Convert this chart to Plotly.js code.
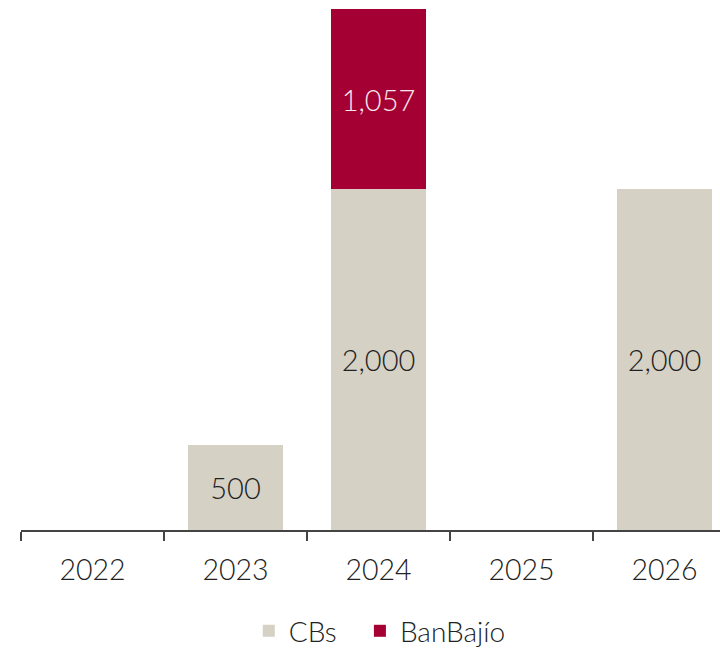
<!DOCTYPE html>
<html>
<head>
<meta charset="utf-8">
<script src="https://cdn.plot.ly/plotly-3.0.1.min.js"></script>
<style>
html,body{margin:0;padding:0;overflow:hidden;background:#fff;width:720px;height:651px;}
#chart{width:736px;height:651px;}
</style>
</head>
<body>
<div id="chart"></div>
<script>
const years = ["2022", "2023", "2024", "2025", "2026"];
const cbs = [null, 500, 2000, null, 2000];
const banbajio = [null, null, 1057, null, null];

const FONT = "Lato, 'Open Sans', sans-serif";

const traces = [
  {
    type: "bar", name: "CBs", x: years, y: cbs, legend: "legend",
    marker: {color: "#d5d1c5"},
    texttemplate: "%{y:,}", textposition: "inside", insidetextanchor: "middle",
    textangle: 0, constraintext: "none",
    textfont: {family: FONT, size: 29, color: "#222222", weight: 300},
    hoverinfo: "skip"
  },
  {
    type: "bar", name: "BanBajío", x: years, y: banbajio, legend: "legend2",
    marker: {color: "#a50034"},
    texttemplate: "%{y:,}", textposition: "inside", insidetextanchor: "middle",
    textangle: 0, constraintext: "none",
    textfont: {family: FONT, size: 29, color: "#f4e6ea", weight: 300},
    hoverinfo: "skip"
  }
];

const legendBase = {
  orientation: "h", xref: "container", yref: "container",
  xanchor: "left", y: 0.069, yanchor: "top",
  font: {family: FONT, size: 28, color: "#222222", weight: 300},
  itemwidth: 30, bgcolor: "rgba(0,0,0,0)"
};

const layout = {
  width: 736, height: 651,
  margin: {l: 21, r: 0, t: 9, b: 121, autoexpand: false},
  barmode: "stack", bargap: 0.33,
  paper_bgcolor: "#ffffff", plot_bgcolor: "#ffffff",
  font: {family: FONT, size: 27, color: "#222222", weight: 300},
  showlegend: true,
  legend: Object.assign({}, legendBase, {x: 0.338}),
  legend2: Object.assign({}, legendBase, {x: 0.489}),
  xaxis: {
    type: "category", categoryorder: "array", categoryarray: years,
    range: [-0.5, 4.5], tickson: "boundaries", automargin: false,
    ticks: "outside", ticklen: 9, tickwidth: 1.5, tickcolor: "#444444",
    showline: true, linecolor: "#444444", linewidth: 1.5,
    showgrid: false, zeroline: false, ticklabelstandoff: 14,
    tickfont: {family: FONT, size: 28.5, color: "#222222", weight: 300}
  },
  yaxis: {
    range: [0, 3057], visible: false, showgrid: false, zeroline: false
  }
};

Plotly.newPlot("chart", traces, layout, {displayModeBar: false, staticPlot: true});
</script>
</body>
</html>
